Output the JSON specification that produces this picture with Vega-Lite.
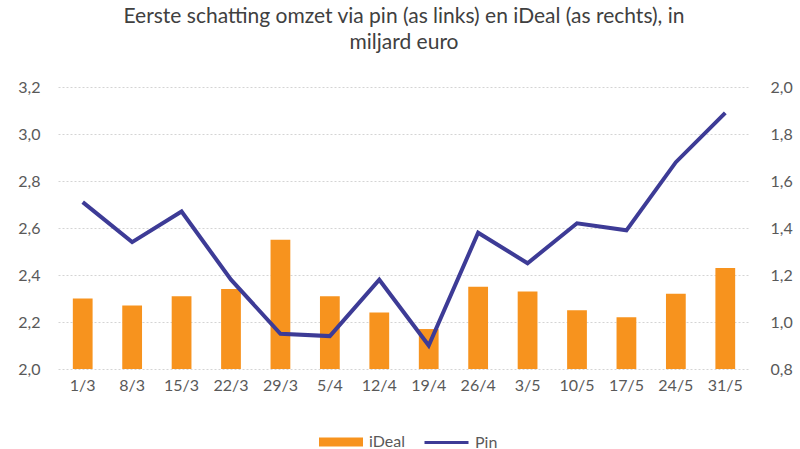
{
  "$schema": "https://vega.github.io/schema/vega-lite/v6.json",
  "autosize": "none",
  "width": 692,
  "height": 282,
  "padding": {"left": 58, "top": 87, "right": 50, "bottom": 80},
  "background": "white",
  "title": {
    "text": ["Eerste schatting omzet via pin (as links) en iDeal (as rechts), in", "miljard euro"],
    "font": "Lato",
    "fontSize": 21,
    "fontWeight": "normal",
    "color": "#404040",
    "lineHeight": 26,
    "offset": 26,
    "anchor": "middle"
  },
  "config": {
    "view": {"stroke": null},
    "axis": {"labelFont": "Lato", "labelFontSize": 16, "labelColor": "#595959", "domain": false, "ticks": false}
  },
  "data": {
    "values": [
      {"week": "1/3", "pin": 2.71, "ideal": 1.10},
      {"week": "8/3", "pin": 2.54, "ideal": 1.07},
      {"week": "15/3", "pin": 2.67, "ideal": 1.11},
      {"week": "22/3", "pin": 2.38, "ideal": 1.14},
      {"week": "29/3", "pin": 2.15, "ideal": 1.35},
      {"week": "5/4", "pin": 2.14, "ideal": 1.11},
      {"week": "12/4", "pin": 2.38, "ideal": 1.04},
      {"week": "19/4", "pin": 2.10, "ideal": 0.97},
      {"week": "26/4", "pin": 2.58, "ideal": 1.15},
      {"week": "3/5", "pin": 2.45, "ideal": 1.13},
      {"week": "10/5", "pin": 2.62, "ideal": 1.05},
      {"week": "17/5", "pin": 2.59, "ideal": 1.02},
      {"week": "24/5", "pin": 2.88, "ideal": 1.12},
      {"week": "31/5", "pin": 3.09, "ideal": 1.23}
    ]
  },
  "encoding": {
    "x": {
      "field": "week", "type": "ordinal", "sort": null,
      "scale": {"paddingInner": 0.6, "paddingOuter": 0.3},
      "axis": {"title": null, "labelAngle": 0, "labelPadding": 8, "grid": false}
    }
  },
  "layer": [
    {
      "mark": {"type": "bar"},
      "encoding": {
        "y": {
          "field": "ideal", "type": "quantitative",
          "scale": {"domain": [0.8, 2.0], "zero": false, "nice": false},
          "axis": {"orient": "right", "title": null, "values": [0.8, 1.0, 1.2, 1.4, 1.6, 1.8, 2.0], "grid": false, "labelPadding": 20, "labelExpr": "replace(format(datum.value, '.1f'), '.', ',')"}
        },
        "y2": {"datum": 0.8},
        "color": {
          "datum": "iDeal",
          "scale": {"range": ["#F7931E"]},
          "legend": {"title": null, "orient": "none", "legendX": 260, "legendY": 332, "symbolType": "M-1,-0.2H1V0.2H-1Z", "symbolSize": 1936, "symbolOpacity": 1, "labelFont": "Lato", "labelFontSize": 16, "labelColor": "#595959", "labelOffset": 5}
        }
      }
    },
    {
      "mark": {"type": "line", "strokeWidth": 4},
      "encoding": {
        "y": {
          "field": "pin", "type": "quantitative",
          "scale": {"domain": [2.0, 3.2], "zero": false, "nice": false},
          "axis": {"orient": "left", "title": null, "values": [2.0, 2.2, 2.4, 2.6, 2.8, 3.0, 3.2], "grid": true, "gridColor": "#d4d4d4", "gridDash": [2, 2], "gridWidth": 1, "labelPadding": 18, "labelExpr": "replace(format(datum.value, '.1f'), '.', ',')"}
        },
        "stroke": {
          "datum": "Pin",
          "scale": {"range": ["#3D3B96"]},
          "legend": {"title": null, "orient": "none", "legendX": 365, "legendY": 332, "symbolType": "stroke", "symbolSize": 1936, "symbolStrokeWidth": 3, "labelFont": "Lato", "labelFontSize": 16, "labelColor": "#595959", "labelOffset": 5}
        }
      }
    }
  ],
  "resolve": {"scale": {"y": "independent", "color": "independent", "stroke": "independent"}}
}
